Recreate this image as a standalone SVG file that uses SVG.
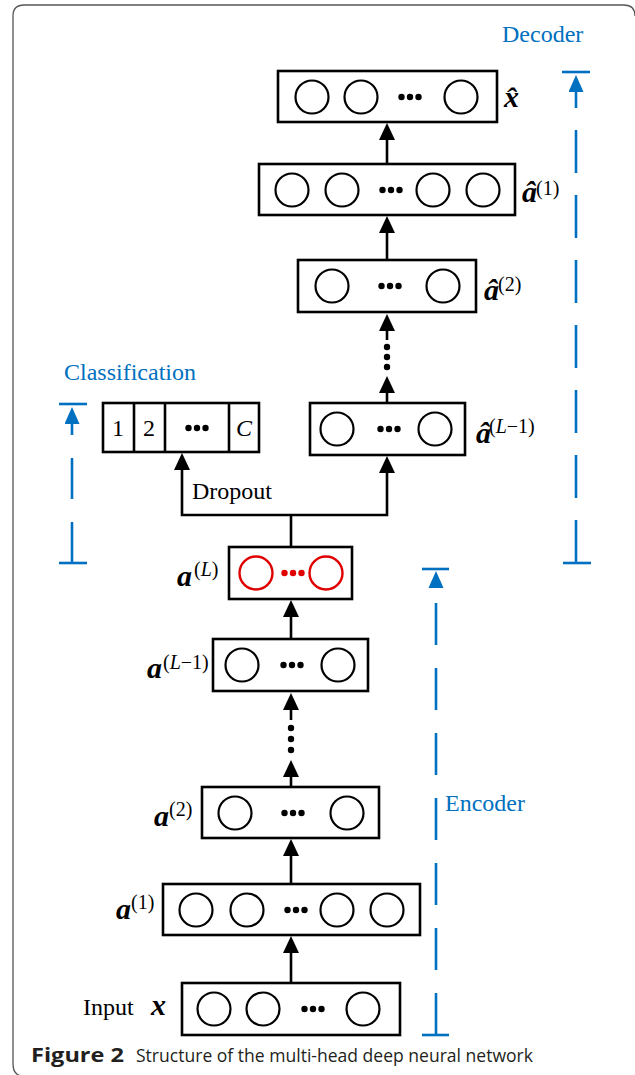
<svg xmlns="http://www.w3.org/2000/svg" width="635" height="1075" viewBox="0 0 635 1075">
<style>
.bx{fill:#fff;stroke:#000;stroke-width:2.6}
.nc{fill:none;stroke:#000;stroke-width:2.2}
.rc{fill:none;stroke:#e00000;stroke-width:2.4}
.dt{fill:#000}
.rd{fill:#e00000}
.cn{fill:none;stroke:#000;stroke-width:2.6}
.bl{fill:none;stroke:#0070C0;stroke-width:2.6}
.blf{fill:#0070C0}
.lab{font-family:"Liberation Serif",serif;font-weight:bold;font-style:italic;font-size:30px;fill:#000}
.sup{font-family:"Liberation Serif",serif;font-size:20px;fill:#000}
.txt{font-family:"Liberation Serif",serif;font-size:24px;fill:#000}
.btx{font-family:"Liberation Serif",serif;font-size:24px;fill:#0070C0}
.cap{font-family:"Open Sans","Noto Sans",sans-serif;font-size:19px;fill:#231F20}
</style>
<defs>
<marker id="ah" markerUnits="userSpaceOnUse" markerWidth="18" markerHeight="18" refX="1" refY="8" orient="auto"><path d="M0,0 L17,8 L0,16 z" fill="#000"/></marker>
<marker id="bah" markerUnits="userSpaceOnUse" markerWidth="18" markerHeight="16" refX="1" refY="7.5" orient="auto"><path d="M0,0 L17,7.5 L0,15 z" fill="#0070C0"/></marker>
</defs>

<path d="M13,1064 L13,16 Q13,5 24,5 L624,5 Q635,5 635,16" fill="none" stroke="#555" stroke-width="1.3"/>
<path d="M13,1064 Q13,1075 22,1076" fill="none" stroke="#555" stroke-width="1.3"/>

<g id="connectors">
<line class="cn" x1="291" y1="983" x2="291" y2="952" marker-end="url(#ah)"/>
<line class="cn" x1="291" y1="884" x2="291" y2="855" marker-end="url(#ah)"/>
<line class="cn" x1="291" y1="787" x2="291" y2="776" marker-end="url(#ah)"/>
<circle class="dt" cx="291" cy="750" r="3.2"/>
<circle class="dt" cx="291" cy="739" r="3.2"/>
<circle class="dt" cx="291" cy="728" r="3.2"/>
<line class="cn" x1="291" y1="720" x2="291" y2="709" marker-end="url(#ah)"/>
<line class="cn" x1="291" y1="639" x2="291" y2="616" marker-end="url(#ah)"/>
<polyline class="cn" points="291,547 291,515"/>
<polyline class="cn" points="182,469 182,515 387,515 387,472"/>
<line class="cn" x1="182" y1="470" x2="182" y2="469" marker-end="url(#ah)"/>
<line class="cn" x1="387" y1="473" x2="387" y2="472" marker-end="url(#ah)"/>
<line class="cn" x1="387" y1="403" x2="387" y2="392" marker-end="url(#ah)"/>
<circle class="dt" cx="387" cy="367" r="3.2"/>
<circle class="dt" cx="387" cy="357" r="3.2"/>
<circle class="dt" cx="387" cy="347" r="3.2"/>
<line class="cn" x1="387" y1="340" x2="387" y2="330" marker-end="url(#ah)"/>
<line class="cn" x1="387" y1="260" x2="387" y2="232" marker-end="url(#ah)"/>
<line class="cn" x1="387" y1="164" x2="387" y2="139" marker-end="url(#ah)"/>
</g>

<g id="decoder-bracket">
<line class="bl" x1="562" y1="72" x2="590" y2="72"/>
<line class="bl" x1="576" y1="563" x2="576" y2="91" stroke-dasharray="43 22" marker-end="url(#bah)"/>
<line class="bl" x1="563" y1="563" x2="591" y2="563"/>
<text class="btx" x="502" y="42">Decoder</text>
</g>
<g id="classification-bracket">
<line class="bl" x1="59" y1="404" x2="87" y2="404"/>
<line class="bl" x1="72" y1="563" x2="72" y2="423" stroke-dasharray="41 23" marker-end="url(#bah)"/>
<line class="bl" x1="59" y1="563" x2="87" y2="563"/>
<text class="btx" x="64" y="380">Classification</text>
</g>
<g id="encoder-bracket">
<line class="bl" x1="422" y1="569" x2="449" y2="569"/>
<line class="bl" x1="436" y1="1035" x2="436" y2="603" stroke-dasharray="42 23"/>
<path class="blf" d="M436,571 L443.5,588 L428.5,588 z"/>
<line class="bl" x1="422" y1="1035" x2="449" y2="1035"/>
<text class="btx" x="445" y="811">Encoder</text>
</g>

<g id="xhat">
<rect class="bx" x="278" y="71" width="219" height="51"/>
<circle class="nc" cx="312" cy="97" r="16.5"/><circle class="nc" cx="361" cy="97" r="16.5"/><circle class="nc" cx="461" cy="97" r="16.5"/>
<circle class="dt" cx="401.5" cy="97" r="3.2"/><circle class="dt" cx="410" cy="97" r="3.2"/><circle class="dt" cx="418.5" cy="97" r="3.2"/>
<text class="lab" x="504" y="107">x̂</text>
</g>
<g id="ahat1">
<rect class="bx" x="259" y="164" width="256" height="51"/>
<circle class="nc" cx="292" cy="190" r="16.5"/><circle class="nc" cx="342" cy="190" r="16.5"/><circle class="nc" cx="433" cy="190" r="16.5"/><circle class="nc" cx="483" cy="190" r="16.5"/>
<circle class="dt" cx="382.5" cy="190" r="3.2"/><circle class="dt" cx="391" cy="190" r="3.2"/><circle class="dt" cx="399.5" cy="190" r="3.2"/>
<text class="lab" x="522" y="202">â</text><text class="sup" x="536" y="195">(1)</text>
</g>
<g id="ahat2">
<rect class="bx" x="298" y="260" width="178" height="52"/>
<circle class="nc" cx="332" cy="286" r="16.5"/><circle class="nc" cx="443" cy="286" r="16.5"/>
<circle class="dt" cx="381.5" cy="286" r="3.2"/><circle class="dt" cx="390" cy="286" r="3.2"/><circle class="dt" cx="398.5" cy="286" r="3.2"/>
<text class="lab" x="484" y="300">â</text><text class="sup" x="498" y="291">(2)</text>
</g>
<g id="ahatL1">
<rect class="bx" x="310" y="403" width="155" height="52"/>
<circle class="nc" cx="337" cy="429" r="16.5"/><circle class="nc" cx="435" cy="429" r="16.5"/>
<circle class="dt" cx="380.5" cy="429" r="3.2"/><circle class="dt" cx="389" cy="429" r="3.2"/><circle class="dt" cx="397.5" cy="429" r="3.2"/>
<text class="lab" x="476" y="443">â</text><text class="sup" x="489" y="433">(<tspan font-style="italic">L</tspan>−1)</text>
</g>
<g id="classification">
<rect class="bx" x="103" y="403" width="156" height="49"/>
<line class="cn" x1="134" y1="403" x2="134" y2="452"/>
<line class="cn" x1="165" y1="403" x2="165" y2="452"/>
<line class="cn" x1="229" y1="403" x2="229" y2="452"/>
<text class="txt" x="118" y="436" text-anchor="middle" font-size="25">1</text>
<text class="txt" x="149" y="436" text-anchor="middle" font-size="25">2</text>
<circle class="dt" cx="188.5" cy="428" r="3.2"/><circle class="dt" cx="197" cy="428" r="3.2"/><circle class="dt" cx="205.5" cy="428" r="3.2"/>
<text class="txt" x="244" y="436" text-anchor="middle" font-style="italic" font-size="25">C</text>
<text class="txt" x="192" y="499">Dropout</text>
</g>
<g id="aL">
<rect class="bx" x="229" y="547" width="123" height="52"/>
<circle class="rc" cx="256" cy="573" r="16.5"/><circle class="rc" cx="326" cy="573" r="16.5"/>
<circle class="rd" cx="284.5" cy="573" r="3.2"/><circle class="rd" cx="293" cy="573" r="3.2"/><circle class="rd" cx="301.5" cy="573" r="3.2"/>
<text class="lab" x="177" y="586">a</text><text class="sup" x="194" y="576">(<tspan font-style="italic">L</tspan>)</text>
</g>
<g id="aL1">
<rect class="bx" x="213" y="639" width="155" height="52"/>
<circle class="nc" cx="242" cy="665" r="16.5"/><circle class="nc" cx="338" cy="665" r="16.5"/>
<circle class="dt" cx="283.5" cy="665" r="3.2"/><circle class="dt" cx="292" cy="665" r="3.2"/><circle class="dt" cx="300.5" cy="665" r="3.2"/>
<text class="lab" x="147" y="678">a</text><text class="sup" x="163" y="669">(<tspan font-style="italic">L</tspan>−1)</text>
</g>
<g id="a2">
<rect class="bx" x="202" y="787" width="177" height="51"/>
<circle class="nc" cx="235" cy="813" r="16.5"/><circle class="nc" cx="347" cy="813" r="16.5"/>
<circle class="dt" cx="284.5" cy="813" r="3.2"/><circle class="dt" cx="293" cy="813" r="3.2"/><circle class="dt" cx="301.5" cy="813" r="3.2"/>
<text class="lab" x="154" y="826">a</text><text class="sup" x="169" y="816">(2)</text>
</g>
<g id="a1">
<rect class="bx" x="163" y="884" width="257" height="51"/>
<circle class="nc" cx="196" cy="910" r="16.5"/><circle class="nc" cx="247" cy="910" r="16.5"/><circle class="nc" cx="337" cy="910" r="16.5"/><circle class="nc" cx="387" cy="910" r="16.5"/>
<circle class="dt" cx="287.5" cy="910" r="3.2"/><circle class="dt" cx="296" cy="910" r="3.2"/><circle class="dt" cx="304.5" cy="910" r="3.2"/>
<text class="lab" x="116" y="919">a</text><text class="sup" x="131" y="909">(1)</text>
</g>
<g id="input">
<rect class="bx" x="182" y="983" width="218" height="52"/>
<circle class="nc" cx="214" cy="1009" r="16.5"/><circle class="nc" cx="263" cy="1009" r="16.5"/><circle class="nc" cx="363" cy="1009" r="16.5"/>
<circle class="dt" cx="304.5" cy="1009" r="3.2"/><circle class="dt" cx="313" cy="1009" r="3.2"/><circle class="dt" cx="321.5" cy="1009" r="3.2"/>
<text class="txt" x="83" y="1015">Input</text>
<text class="lab" x="151" y="1015">x</text>
</g>

<g id="caption">
<text class="cap" x="31" y="1062" font-weight="bold" font-size="20" textLength="93" lengthAdjust="spacingAndGlyphs">Figure 2</text>
<text class="cap" x="136" y="1062" textLength="397" lengthAdjust="spacingAndGlyphs">Structure of the multi-head deep neural network</text>
</g>
</svg>
